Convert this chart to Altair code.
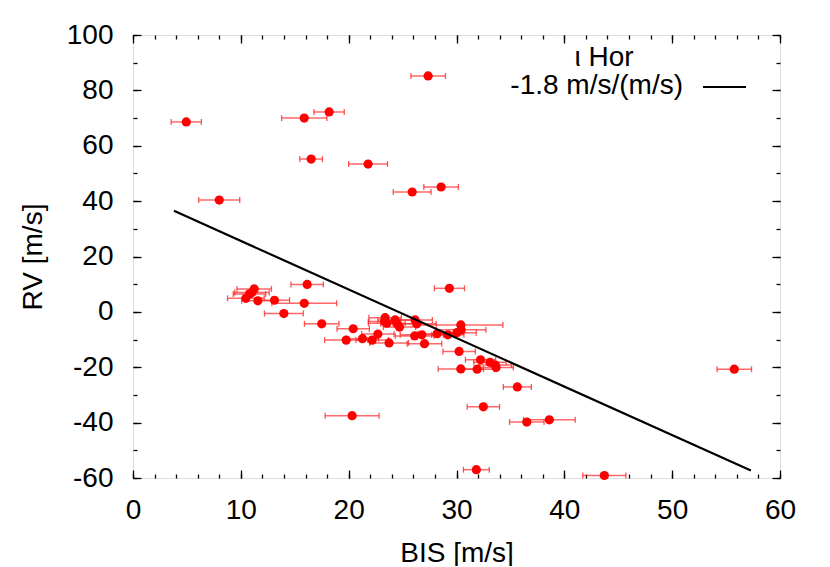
import altair as alt
import pandas as pd

# ---- data ----
bis = [4.94, 8.0, 15.88, 18.19, 27.37, 16.52, 21.8, 25.89, 28.57, 16.15,
       29.34, 11.24, 11.03, 10.8, 10.47, 11.58, 13.12, 15.88, 13.99, 17.5,
       20.42, 19.77, 21.28, 22.18, 22.71, 23.75, 23.38, 23.32, 23.54, 24.31,
       24.47, 24.71, 26.16, 26.32, 26.12, 26.78, 27.03, 28.2, 29.19, 30.03,
       30.4, 30.43, 30.24, 32.23, 33.1, 33.6, 33.67, 30.4, 31.91, 35.64,
       32.49, 36.52, 38.61, 55.76, 31.84, 43.71, 20.32]
rv = [68.6, 40.4, 70.0, 72.2, 85.2, 55.2, 53.4, 43.3, 45.1, 9.9,
      8.5, 8.3, 7.0, 6.5, 4.9, 4.0, 4.2, 3.1, -0.6, -4.3,
      -6.1, -10.2, -9.7, -10.2, -8.0, -11.2, -2.1, -3.5, -4.1, -2.9,
      -4.3, -5.5, -2.9, -4.3, -8.7, -8.3, -11.5, -7.9, -8.3, -7.5,
      -4.7, -6.5, -14.3, -17.3, -18.2, -19.2, -20.1, -20.6, -20.7, -27.1,
      -34.3, -39.8, -39.0, -20.7, -57.0, -59.1, -37.5]
bis_err = [1.4, 1.9, 2.1, 1.4, 1.6, 1.05, 1.8, 1.75, 1.6, 1.5,
           1.4, 1.6, 1.6, 1.5, 1.7, 1.5, 1.4, 3.0, 1.8, 1.6,
           1.5, 2.0, 1.5, 1.5, 1.5, 1.8, 1.5, 1.5, 1.7, 1.6,
           1.5, 1.5, 1.6, 1.8, 1.8, 2.0, 1.6, 1.8, 1.5, 1.8,
           3.9, 2.3, 1.5, 1.4, 1.5, 1.5, 1.6, 2.1, 1.6, 1.3,
           1.5, 1.6, 2.4, 1.6, 1.2, 2.0, 2.5]

fit_bis = [3.8, 57.3]
fit_rv = [36.5, -57.3]

star_name = ["ι Hor"]
fit_label = ["-1.8 m/s/(m/s)"]

x_major = list(range(0, 61, 10))
x_minor = list(range(0, 61, 2))
y_major = list(range(-60, 101, 20))
y_minor = list(range(-60, 101, 10))

FONT = "Liberation Sans"
FS = 28

df = pd.DataFrame({"bis": bis, "rv": rv, "err": bis_err})
fit_df = pd.DataFrame({"bis": fit_bis, "rv": fit_rv})

xs = alt.Scale(domain=[0, 60], nice=False, zero=False)
ys = alt.Scale(domain=[-60, 100], nice=False, zero=False)


def axis(orient, values, size, labels=False, title=None, **kw):
    args = dict(orient=orient, values=values, tickSize=size, offset=-size,
                domain=False, grid=False, labels=labels, ticks=True,
                tickColor="black", tickWidth=1.3, title=title)
    if labels:
        args.update(labelFont=FONT, labelFontSize=FS, labelColor="black",
                    labelFlush=False, labelOverlap=False, labelBound=False,
                    labelExpr="'' + datum.value",
                    titleFont=FONT, titleFontSize=FS, titleFontWeight="normal",
                    titleColor="black")
    args.update(kw)
    return alt.Axis(**args)


base = alt.Chart(df).transform_calculate(
    lo="datum.bis - datum.err", hi="datum.bis + datum.err"
)

err_rules = base.mark_rule(color="#ff2a2a", opacity=0.7, strokeWidth=1.5).encode(
    x=alt.X("lo:Q", scale=xs,
            axis=axis("bottom", x_major, 8, labels=True, title="BIS [m/s]",
                      labelPadding=18, titlePadding=15)),
    x2="hi:Q",
    y=alt.Y("rv:Q", scale=ys,
            axis=axis("left", y_major, 8, labels=True, title="RV [m/s]",
                      labelPadding=20, titlePadding=19)),
)

cap_lo = base.mark_tick(color="#ff2a2a", opacity=0.8, orient="vertical",
                        size=6, thickness=1.3).encode(
    x=alt.X("lo:Q", scale=xs, axis=axis("bottom", x_minor, 4)),
    y=alt.Y("rv:Q", scale=ys, axis=axis("left", y_minor, 4)),
)

cap_hi = base.mark_tick(color="#ff2a2a", opacity=0.8, orient="vertical",
                        size=6, thickness=1.3).encode(
    x=alt.X("hi:Q", scale=xs, axis=axis("top", x_major, 8)),
    y=alt.Y("rv:Q", scale=ys, axis=axis("right", y_major, 8)),
)

points = alt.Chart(df).mark_circle(color="#ff0000", opacity=1, size=85).encode(
    x=alt.X("bis:Q", scale=xs, axis=axis("top", x_minor, 4)),
    y=alt.Y("rv:Q", scale=ys, axis=axis("right", y_minor, 4)),
)

fit_line = alt.Chart(fit_df).mark_line(color="black", strokeWidth=2.2).encode(
    x=alt.X("bis:Q", scale=xs, axis=None),
    y=alt.Y("rv:Q", scale=ys, axis=None),
)

title_text = alt.Chart(pd.DataFrame({"t": star_name})).mark_text(
    font=FONT, fontSize=FS, align="center", baseline="alphabetic", color="black"
).encode(x=alt.value(471), y=alt.value(31), text="t:N")

label_text = alt.Chart(pd.DataFrame({"t": fit_label})).mark_text(
    font=FONT, fontSize=FS, align="right", baseline="alphabetic", color="black"
).encode(x=alt.value(550), y=alt.value(59), text="t:N")

legend_line = alt.Chart(pd.DataFrame({"t": fit_label})).mark_rule(
    color="black", strokeWidth=2.2
).encode(x=alt.value(570), x2=alt.value(613), y=alt.value(52))

chart = alt.layer(
    err_rules, cap_lo, cap_hi, points, fit_line, title_text, label_text, legend_line
).resolve_axis(
    x="independent", y="independent"
).properties(
    width=647, height=443,
    autosize=alt.AutoSizeParams(type="none"),
    padding={"left": 125, "top": 27, "right": 40, "bottom": 88},
).configure_view(
    stroke="black", strokeWidth=1.6
).configure(
    font=FONT
)

chart.save("out.html", embed_options={"renderer": "svg", "actions": False})
